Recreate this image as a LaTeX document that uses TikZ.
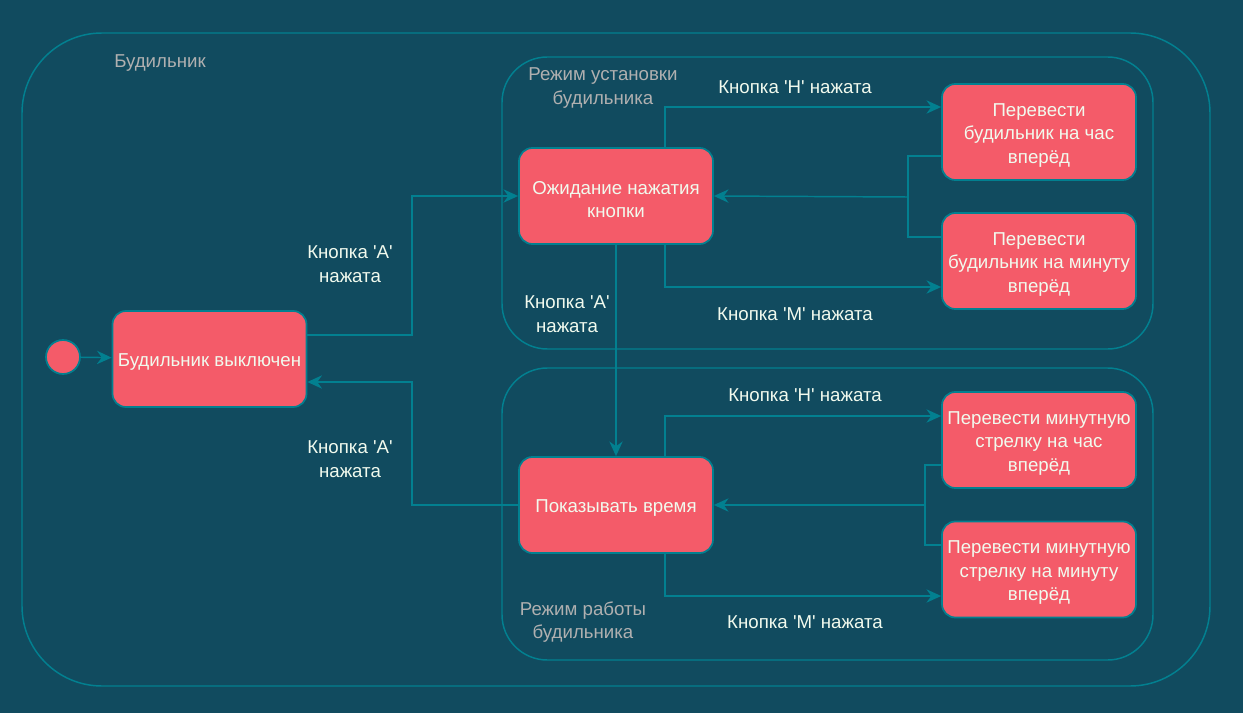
\documentclass[tikz,border=0pt]{standalone}
\usepackage{fontspec}
\setmainfont{Liberation Sans}[Ligatures=TeXOff]
\usetikzlibrary{arrows.meta}
\definecolor{bg}{HTML}{114B5F}
\definecolor{edge}{HTML}{028090}
\definecolor{nodefill}{HTML}{F45B69}
\definecolor{txt}{HTML}{F1FAEE}
\definecolor{grp}{HTML}{B0B0B0}
\tikzset{
  state/.style={draw=edge, fill=nodefill, line width=1.3pt, rounded corners=10pt, minimum width=194*0.75pt, minimum height=96*0.75pt, align=center, text=txt, font=\fontsize{14}{17.6}\selectfont, inner sep=0pt},
  stext/.style={text=txt, align=center, font=\fontsize{14}{17.6}\selectfont, yshift=-2.5pt},
  group/.style={draw=edge, line width=1.1pt},
  conn/.style={draw=edge, line width=1.1pt, -{Stealth[length=11pt,width=10pt]}},
  lbl/.style={text=txt, align=center, font=\fontsize{14}{17.6}\selectfont, yshift=-1.5pt},
  glbl/.style={text=grp, align=center, font=\fontsize{14}{17.6}\selectfont, yshift=-1.5pt},
}
\begin{document}
\begin{tikzpicture}[x=0.75pt,y=-0.75pt]
\fill[bg] (0,0) rectangle (1243,713);
\useasboundingbox (0,0) rectangle (1243,713);
% groups
\draw[group, rounded corners=60pt] (22,33) rectangle (1210,686);
\node[glbl] (gmain) at (160,61) {Будильник};
\draw[group, rounded corners=34pt] (502,57) rectangle (1153,349);
\node[glbl] (gset) at (603,86) {Режим установки\\будильника};
\draw[group, rounded corners=34pt] (502,368) rectangle (1153,660);
\node[glbl] (gwork) at (583,620) {Режим работы\\будильника};
% nodes
\node[circle, draw=edge, fill=nodefill, line width=1.3pt, minimum size=34*0.75pt, inner sep=0pt] (init) at (63,357) {};
\node[state] (off) at (209.5,359) {};
\node[stext] (offt) at (off) {Будильник выключен};
\node[state] (wait) at (616,196) {};
\node[stext] (waitt) at (wait) {Ожидание нажатия\\кнопки};
\node[state] (hup) at (1039,132) {};
\node[stext] (hupt) at (hup) {Перевести\\будильник на час\\вперёд};
\node[state] (mup) at (1039,261) {};
\node[stext] (mupt) at (mup) {Перевести\\будильник на минуту\\вперёд};
\node[state] (show) at (616,505) {};
\node[stext] (showt) at (show) {Показывать время};
\node[state] (ahup) at (1039,440) {};
\node[stext] (ahupt) at (ahup) {Перевести минутную\\стрелку на час\\вперёд};
\node[state] (amup) at (1039,569.5) {};
\node[stext] (amupt) at (amup) {Перевести минутную\\стрелку на минуту\\вперёд};
% connectors
\draw[conn] (init) -- (off);
\coordinate (offr1) at (off.east |- 0,335);
\coordinate (offr2) at (off.east |- 0,382);
\draw[conn] (offr1) -| (412,250) |- (wait.west);
\node[lbl] (l1) at (350,262) {Кнопка 'A'\\нажата};
\draw[conn] (show.west) -| (412,450) |- (offr2);
\node[lbl] (l2) at (350,457) {Кнопка 'A'\\нажата};
\draw[conn] (wait.south) -- (show.north);
\node[lbl] (l3) at (567,312) {Кнопка 'A'\\нажата};
\coordinate (wt) at (665,148);
\coordinate (wb) at (665,244);
\draw[conn] (wt) |- (hup.west |- 0,107);
\node[lbl] (l4) at (795,85) {Кнопка 'H' нажата};
\draw[conn] (wb) |- (mup.west |- 0,287);
\node[lbl] (l5) at (795,312) {Кнопка 'M' нажата};
\draw[group] (hup.west |- 0,156) -| (908,197);
\draw[group] (mup.west |- 0,237) -| (908,197);
\draw[conn] (908,197) -- (wait.east);
\coordinate (st) at (665,457);
\coordinate (sb) at (665,553);
\draw[conn] (st) |- (ahup.west |- 0,416);
\node[lbl] (l6) at (805,393) {Кнопка 'H' нажата};
\draw[conn] (sb) |- (amup.west |- 0,596);
\node[lbl] (l7) at (805,620) {Кнопка 'M' нажата};
\draw[group] (ahup.west |- 0,465) -| (925,505);
\draw[group] (amup.west |- 0,545) -| (925,505);
\draw[conn] (925,505) -- (show.east);
\end{tikzpicture}
\end{document}
